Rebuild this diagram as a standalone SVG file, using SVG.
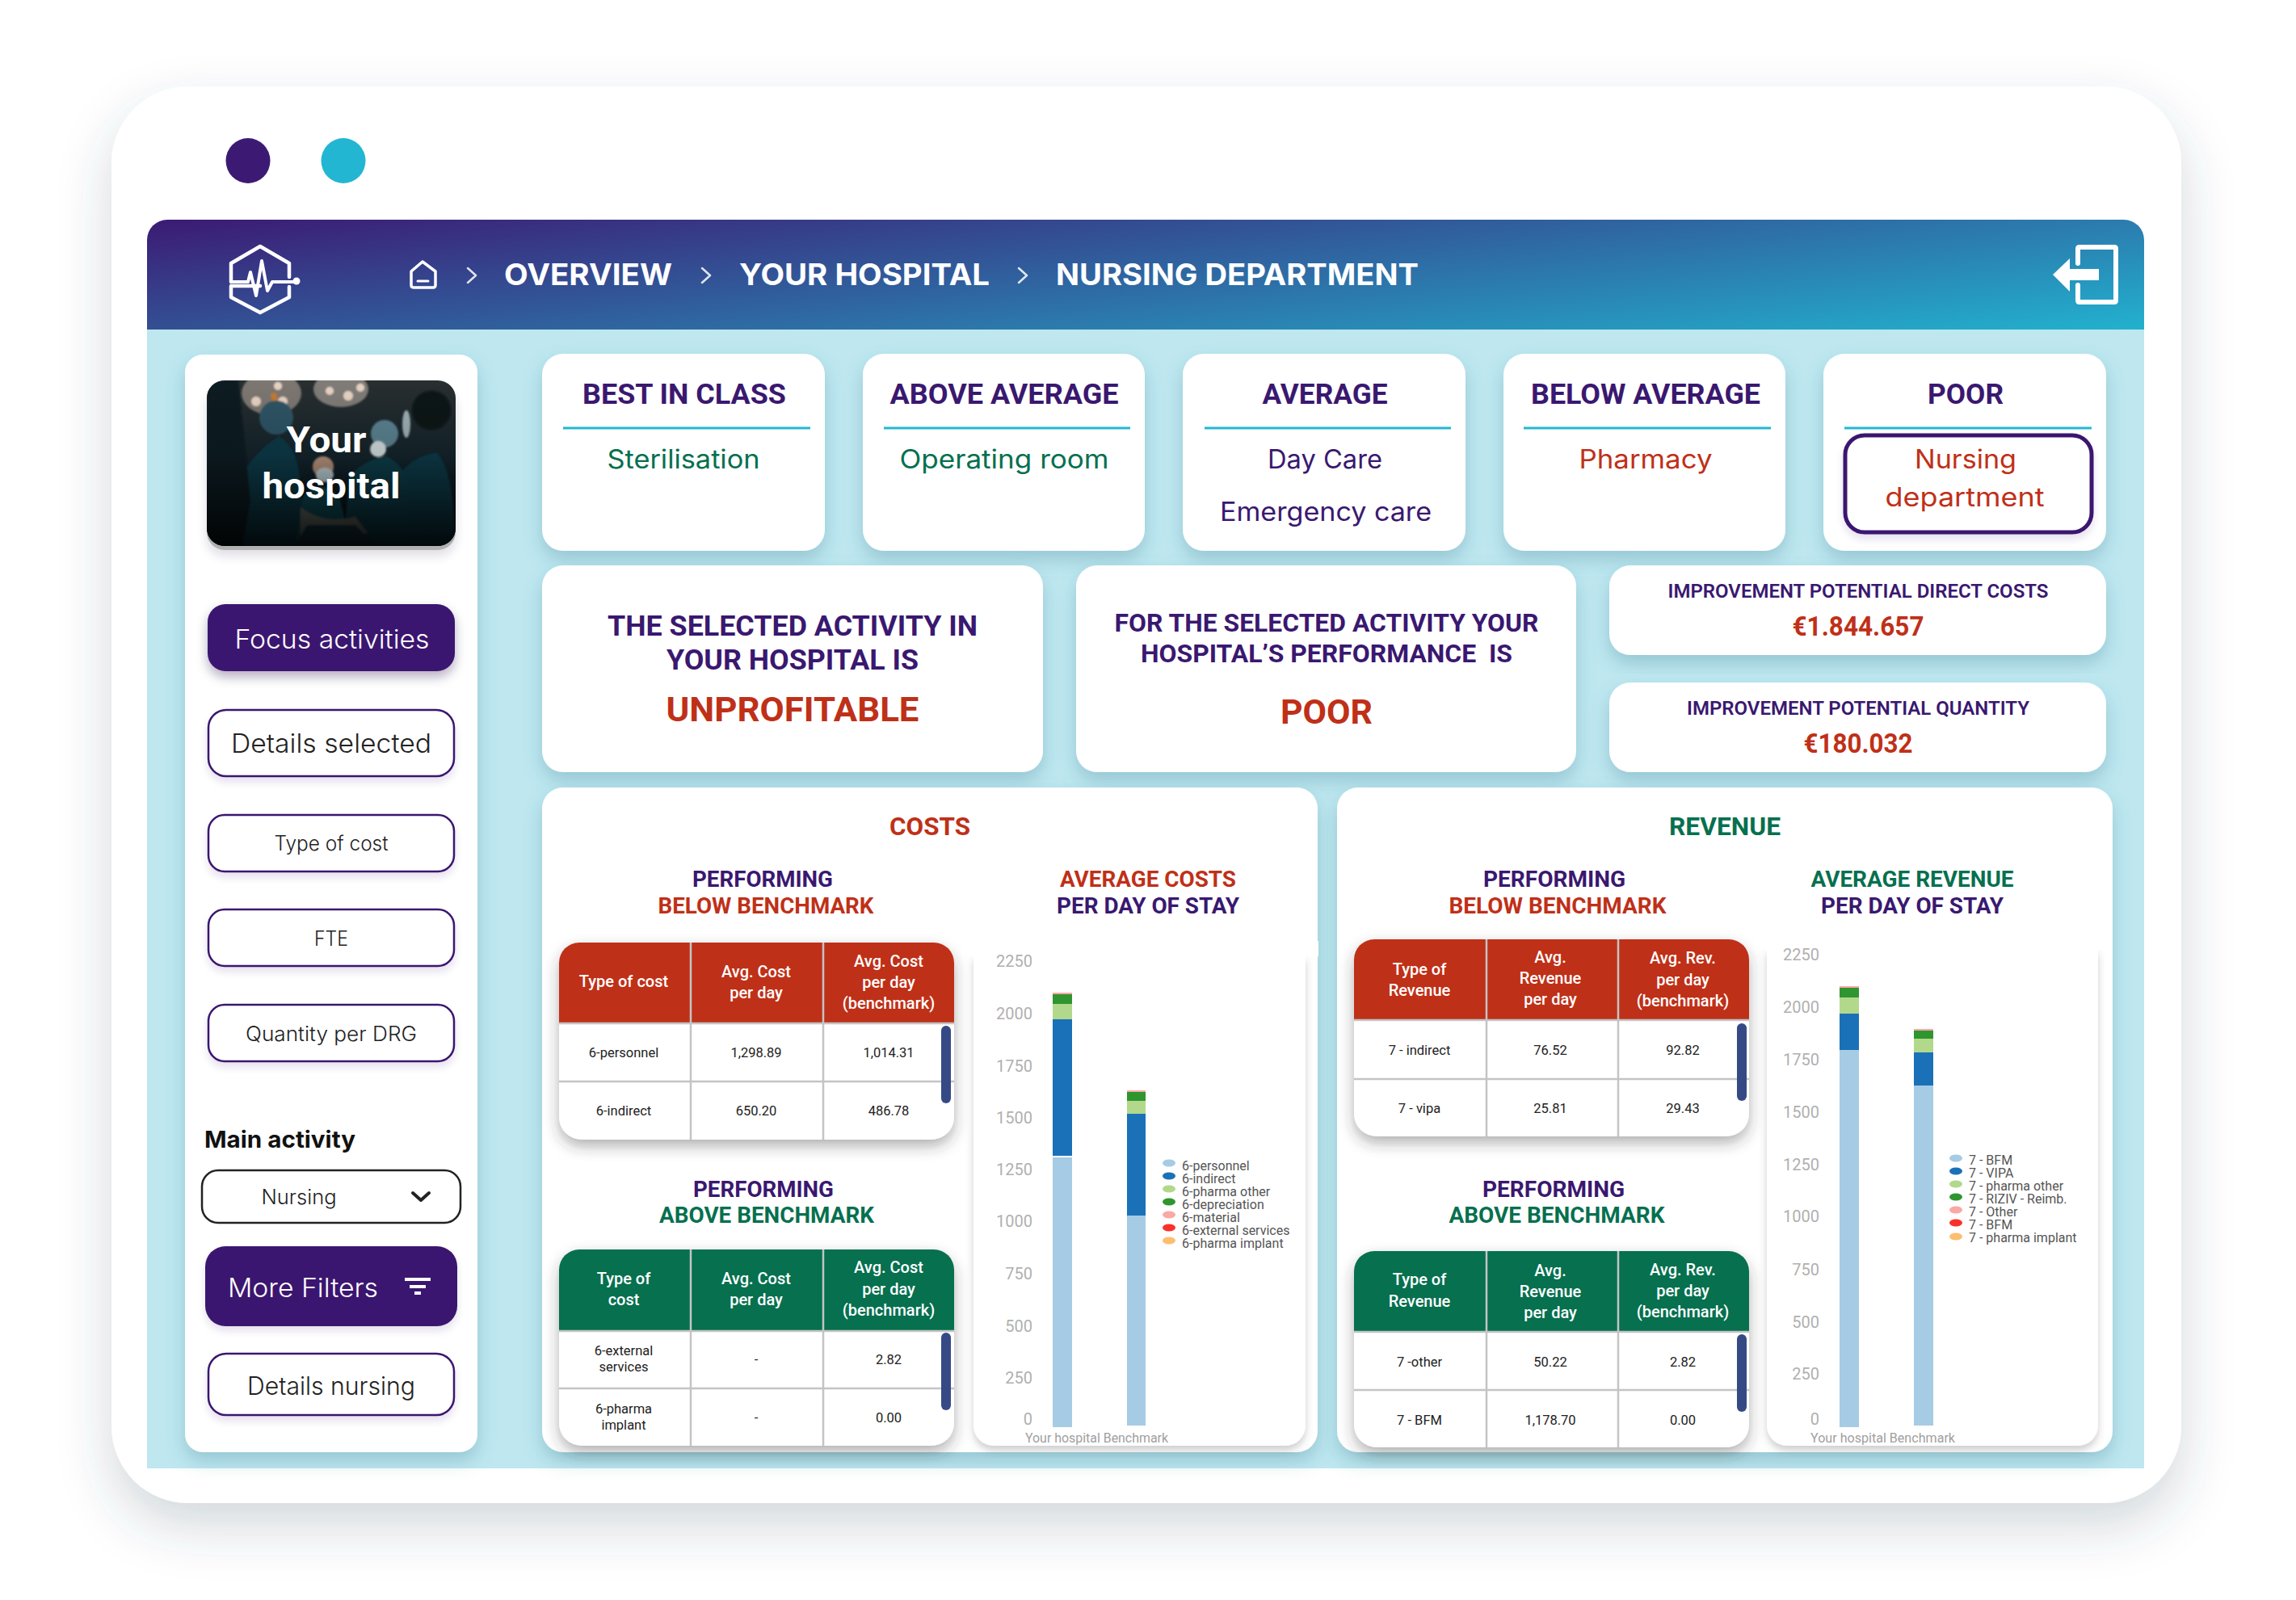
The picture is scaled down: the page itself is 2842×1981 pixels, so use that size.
<svg xmlns="http://www.w3.org/2000/svg" width="2842" height="1981" viewBox="0 0 2842 1981">
<style>
text{font-family:"Roboto","Liberation Sans",sans-serif}
.m{font-family:"Inter","Open Sans",sans-serif}
.c{text-anchor:middle}
.pu{fill:#3a1870}.re{fill:#bf3018}.gr{fill:#06704f}.wh{fill:#fff}
.tt{font-size:35px;font-weight:700}
.st{font-size:32px;font-weight:400}
.h2{font-size:28px;font-weight:700}
.h1{font-size:32px;font-weight:700}
.big{font-size:42px;font-weight:700}
.stm{font-size:31px;font-weight:700}
.stl{font-size:35px;font-weight:700}
.ip{font-size:24px;font-weight:600}
.val{font-size:33px;font-weight:700}
.th{font-size:20px;font-weight:500;fill:#fff}
.td{font-size:16.5px;fill:#222}
.ax{font-size:20px;fill:#b0b0b0;text-anchor:end}
.lg{font-size:16px;fill:#555}
.xl{font-size:17px;fill:#a0a0a0}
.card{fill:#fff;filter:url(#sh)}
.rule{stroke:#22b8d0;stroke-width:3}
.btn{fill:#fff;stroke:#3a1870;stroke-width:2.5;filter:url(#shs)}
.btnf{fill:#3a1870;filter:url(#shb)}
.sep{stroke:#c4c4c4;stroke-width:2.5;fill:none}
.scr{fill:#354a85}
.tb{fill:#fff;filter:url(#sht)}
.chart{fill:#fff;filter:url(#shc)}
.ic{fill:none;stroke:#fff;stroke-linejoin:round;stroke-linecap:round}
.a{fill:#a6cbe5}.b{fill:#1a71b8}.cc{fill:#b2d88c}.d{fill:#2f952f}.e{fill:#f9a9a5}.f{fill:#f8322b}.g{fill:#fdbe6f}
</style>
<defs>
<linearGradient id="hd" gradientUnits="userSpaceOnUse" x1="182" y1="272" x2="221" y2="657">
<stop offset="0" stop-color="#3c1a74"/><stop offset="1" stop-color="#22b2cf"/>
</linearGradient>
<linearGradient id="ph" x1="0" y1="0" x2="0" y2="1">
<stop offset="0" stop-color="#2a2f30"/><stop offset=".5" stop-color="#12242c"/><stop offset="1" stop-color="#02070d"/>
</linearGradient>
<linearGradient id="fade" x1="0" y1="0" x2="0" y2="1">
<stop offset="0" stop-color="#000" stop-opacity="0"/><stop offset=".45" stop-color="#000" stop-opacity=".15"/><stop offset="1" stop-color="#000" stop-opacity=".85"/>
</linearGradient>
<clipPath id="phc"><rect x="256" y="471" width="308" height="205" rx="22"/></clipPath>
<filter id="outer" x="-10%" y="-10%" width="120%" height="125%"><feDropShadow dx="0" dy="28" stdDeviation="32" flood-color="#35505a" flood-opacity=".22"/></filter>
<filter id="sh" x="-10%" y="-10%" width="120%" height="130%"><feDropShadow dx="0" dy="11" stdDeviation="11" flood-color="#3a7f90" flood-opacity=".3"/></filter>
<filter id="shs" x="-10%" y="-20%" width="120%" height="150%"><feDropShadow dx="0" dy="6" stdDeviation="5" flood-color="#3a1870" flood-opacity=".12"/></filter>
<filter id="shb" x="-10%" y="-20%" width="120%" height="160%"><feDropShadow dx="0" dy="7" stdDeviation="7" flood-color="#221040" flood-opacity=".32"/></filter>
<filter id="sht" x="-10%" y="-10%" width="120%" height="130%"><feDropShadow dx="0" dy="8" stdDeviation="9" flood-color="#333" flood-opacity=".38"/></filter>
<filter id="shc" x="-5%" y="-5%" width="110%" height="110%"><feDropShadow dx="0" dy="6" stdDeviation="5" flood-color="#555" flood-opacity=".28"/></filter>
<filter id="bl" x="-10%" y="-10%" width="120%" height="120%"><feGaussianBlur stdDeviation="1.2"/></filter>
</defs>

<g id="window">
<rect x="138" y="107" width="2562" height="1754" rx="95" fill="#fff" filter="url(#outer)"/>
<ellipse cx="307" cy="199" rx="27.5" ry="28" fill="#3c1a74"/>
<ellipse cx="425" cy="199" rx="27.5" ry="28" fill="#22b6d2"/>
</g>

<g id="body"><rect x="182" y="400" width="2472" height="1418" fill="#bee7f0"/></g>

<g id="header">
<path d="M182 408V297a25 25 0 0 1 25-25H2629a25 25 0 0 1 25 25V408Z" fill="url(#hd)"/>
<g id="logo">
<path class="ic" stroke-width="4.5" d="M286 349V326L322 305L358 326V343M358 355V368L322 387L286 368V354H322"/>
<path class="ic" stroke-width="4" d="M286 349H307L310 337L317 366L324 323L331 360L337 349H365"/>
<circle cx="367" cy="348" r="4.5" fill="#fff"/>
</g>
<g id="home"><path class="ic" stroke-width="3.5" d="M509 336L523 324L539 336V353Q539 356 536 356H512Q509 356 509 353Z"/><path class="ic" stroke-width="3" d="M517 348H530"/></g>
<path class="ic" stroke-width="2.5" opacity=".85" d="M579 332L589 341L579 350M869 332L879 341L869 350M1261 332L1271 341L1261 350"/>
<text class="m" x="624" y="353" font-size="37" font-weight="700" fill="#fff" textLength="208" lengthAdjust="spacingAndGlyphs">OVERVIEW</text>
<text class="m" x="915" y="353" font-size="37" font-weight="700" fill="#fff" textLength="310" lengthAdjust="spacingAndGlyphs">YOUR HOSPITAL</text>
<text class="m" x="1307" y="353" font-size="37" font-weight="700" fill="#fff" textLength="449" lengthAdjust="spacingAndGlyphs">NURSING DEPARTMENT</text>
<g id="exit"><path class="ic" stroke-width="6" d="M2572 326V308Q2572 306 2574 306H2617Q2619 306 2619 308V372Q2619 374 2617 374H2574Q2572 374 2572 372V353"/>
<path d="M2541 340L2562 320V333H2598V347H2562V361Z" fill="#fff"/></g>
</g>

<g id="sidebar">
<rect class="card" x="229" y="439" width="362" height="1359" rx="22"/>
<g id="photo">
<rect x="256" y="476" width="308" height="205" rx="22" fill="#555" opacity=".45" filter="url(#shb)"/>
<g clip-path="url(#phc)">
<rect x="256" y="471" width="308" height="205" fill="url(#ph)"/>
<g filter="url(#bl)">
<ellipse cx="336" cy="487" rx="37" ry="27" fill="#7d7772"/>
<ellipse cx="422" cy="482" rx="34" ry="22" fill="#807c78"/>
<circle cx="317" cy="497" r="6" fill="#e8d3c3"/><circle cx="331" cy="508" r="6" fill="#e8d3c3"/><circle cx="350" cy="497" r="6" fill="#e8d3c3"/><circle cx="344" cy="478" r="5" fill="#e8d3c3"/><circle cx="408" cy="484" r="5" fill="#e8d3c3"/><circle cx="431" cy="490" r="6" fill="#e8d3c3"/><circle cx="446" cy="480" r="5" fill="#e8d3c3"/>
<path d="M338 487L343 505" stroke="#c47b2e" stroke-width="7"/>
<path d="M295 676L298 590Q315 560 345 540Q372 555 372 610L385 676Z" fill="#0b3b48"/>
<circle cx="342" cy="517" r="21" fill="#2f5566"/>
<path d="M256 471H295L310 620L300 676H256Z" fill="#0c1a21"/>
<path d="M485 676L492 590Q510 565 540 560Q562 580 564 676Z" fill="#0a3a48"/>
<circle cx="534" cy="508" r="24" fill="#0b1219"/>
<ellipse cx="503" cy="525" rx="5" ry="17" fill="#9fb2b6"/>
<path d="M425 676L432 590Q450 570 478 565Q500 575 505 600L505 676Z" fill="#0b3d49"/>
<circle cx="476" cy="537" r="17" fill="#5b8392"/>
<ellipse cx="468" cy="556" rx="10" ry="10" fill="#d6e0e2"/>
<path d="M365 676L375 615Q395 590 420 615L435 676Z" fill="#0f4b56"/>
<circle cx="400" cy="578" r="13" fill="#b8947d"/>
<ellipse cx="402" cy="588" rx="11" ry="9" fill="#c0d3d7"/>
<path d="M372 628Q400 650 440 640L455 660L372 670Z" fill="#9a7f6e" opacity=".6"/>
<path d="M380 650H440L465 676H365Z" fill="#133642"/>
</g>
<rect x="256" y="471" width="308" height="205" fill="url(#fade)"/>
</g>
<text x="404" y="560" font-size="45" font-weight="700" fill="#fff" text-anchor="middle" textLength="99" lengthAdjust="spacingAndGlyphs">Your</text>
<text x="410" y="617" font-size="45" font-weight="700" fill="#fff" text-anchor="middle" textLength="171" lengthAdjust="spacingAndGlyphs">hospital</text>
</g>
<g id="focus-activities"><rect class="btnf" x="257" y="748" width="306" height="83" rx="22"/><text class="m c wh" x="411" y="803" font-size="33" font-weight="300" textLength="241" lengthAdjust="spacingAndGlyphs">Focus activities</text></g>
<g id="details-selected"><rect class="btn" x="258" y="879" width="304" height="82" rx="22"/><text class="m c" x="410" y="932" font-size="33" fill="#222" font-weight="300" textLength="248" lengthAdjust="spacingAndGlyphs">Details selected</text></g>
<g id="type-of-cost"><rect class="btn" x="258" y="1009" width="304" height="70" rx="20"/><text class="m c" x="410" y="1053" font-size="25" fill="#222" font-weight="300" textLength="141" lengthAdjust="spacingAndGlyphs">Type of cost</text></g>
<g id="fte"><rect class="btn" x="258" y="1126" width="304" height="70" rx="20"/><text class="m c" x="410" y="1171" font-size="25" fill="#222" font-weight="300" textLength="42" lengthAdjust="spacingAndGlyphs">FTE</text></g>
<g id="quantity-drg"><rect class="btn" x="258" y="1244" width="304" height="70" rx="20"/><text class="m c" x="410" y="1289" font-size="25" fill="#222" font-weight="300" textLength="212" lengthAdjust="spacingAndGlyphs">Quantity per DRG</text></g>
<text class="m" x="253" y="1421" font-size="29" font-weight="700" fill="#111" textLength="187" lengthAdjust="spacingAndGlyphs">Main activity</text>
<g id="nursing-select"><rect x="250" y="1449" width="320" height="65" rx="20" fill="#fff" stroke="#222" stroke-width="2.5"/><text class="m c" x="370" y="1491" font-size="25" fill="#222" font-weight="300" textLength="93" lengthAdjust="spacingAndGlyphs">Nursing</text><path d="M511 1477L521 1486L531 1477" fill="none" stroke="#222" stroke-width="4" stroke-linecap="round" stroke-linejoin="round"/></g>
<g id="more-filters"><rect x="254" y="1543" width="312" height="99" rx="25" fill="#3a1870" filter="url(#shs)"/><text class="m wh" x="282" y="1606" font-size="33" font-weight="300" textLength="186" lengthAdjust="spacingAndGlyphs">More Filters</text><path d="M501 1584H533M507 1593H527M513 1601H521" stroke="#fff" stroke-width="4"/></g>
<g id="details-nursing"><rect class="btn" x="258" y="1676" width="304" height="76" rx="22"/><text class="m c" x="410" y="1727" font-size="31" fill="#222" font-weight="300" textLength="208" lengthAdjust="spacingAndGlyphs">Details nursing</text></g>
</g>

<g id="best-in-class"><rect class="card" x="671" y="438" width="350" height="244" rx="26"/><text class="tt c pu" x="847" y="500" textLength="252" lengthAdjust="spacingAndGlyphs">BEST IN CLASS</text><line class="rule" x1="697" x2="1003" y1="530" y2="530"/><text class="m st c gr" x="846" y="580" textLength="189" lengthAdjust="spacingAndGlyphs">Sterilisation</text></g>
<g id="above-average"><rect class="card" x="1068" y="438" width="349" height="244" rx="26"/><text class="tt c pu" x="1243" y="500" textLength="283" lengthAdjust="spacingAndGlyphs">ABOVE AVERAGE</text><line class="rule" x1="1094" x2="1399" y1="530" y2="530"/><text class="m st c gr" x="1243" y="580" textLength="259" lengthAdjust="spacingAndGlyphs">Operating room</text></g>
<g id="average"><rect class="card" x="1464" y="438" width="350" height="244" rx="26"/><text class="tt c pu" x="1640" y="500" textLength="155" lengthAdjust="spacingAndGlyphs">AVERAGE</text><line class="rule" x1="1491" x2="1796" y1="530" y2="530"/><text class="m st c pu" x="1640" y="580" textLength="142" lengthAdjust="spacingAndGlyphs">Day Care</text><text class="m st c pu" x="1641" y="645" textLength="262" lengthAdjust="spacingAndGlyphs">Emergency care</text></g>
<g id="below-average"><rect class="card" x="1861" y="438" width="349" height="244" rx="26"/><text class="tt c pu" x="2037" y="500" textLength="284" lengthAdjust="spacingAndGlyphs">BELOW AVERAGE</text><line class="rule" x1="1886" x2="2192" y1="530" y2="530"/><text class="m st c re" x="2037" y="580" textLength="165" lengthAdjust="spacingAndGlyphs">Pharmacy</text></g>
<g id="poor"><rect class="card" x="2257" y="438" width="350" height="244" rx="26"/><text class="tt c pu" x="2433" y="500" textLength="94" lengthAdjust="spacingAndGlyphs">POOR</text><line class="rule" x1="2283" x2="2589" y1="530" y2="530"/><rect x="2284" y="539" width="305" height="120" rx="24" fill="#fff" stroke="#3a1870" stroke-width="5" filter="url(#shs)"/><text class="m st c re" x="2433" y="580" textLength="126" lengthAdjust="spacingAndGlyphs">Nursing</text><text class="m st c re" x="2432" y="627" textLength="197" lengthAdjust="spacingAndGlyphs">department</text></g>

<g id="selected-activity"><rect class="card" x="671" y="700" width="620" height="256" rx="26"/><text class="stl c pu" x="981" y="787" textLength="458" lengthAdjust="spacingAndGlyphs">THE SELECTED ACTIVITY IN</text><text class="stl c pu" x="981" y="829" textLength="312" lengthAdjust="spacingAndGlyphs">YOUR HOSPITAL IS</text><text class="big c re" x="981" y="893" textLength="313" lengthAdjust="spacingAndGlyphs">UNPROFITABLE</text></g>
<g id="performance"><rect class="card" x="1332" y="700" width="619" height="256" rx="26"/><text class="stm c pu" x="1642" y="782" textLength="525" lengthAdjust="spacingAndGlyphs">FOR THE SELECTED ACTIVITY YOUR</text><text class="stm c pu" x="1642" y="820" xml:space="preserve" textLength="460" lengthAdjust="spacingAndGlyphs">HOSPITAL’S PERFORMANCE  IS</text><text class="big c re" x="1642" y="896" textLength="114" lengthAdjust="spacingAndGlyphs">POOR</text></g>
<g id="potential-direct"><rect class="card" x="1992" y="700" width="615" height="111" rx="26"/><text class="ip c pu" x="2300" y="740" textLength="471" lengthAdjust="spacingAndGlyphs">IMPROVEMENT POTENTIAL DIRECT COSTS</text><text class="val c re" x="2300" y="787" textLength="163" lengthAdjust="spacingAndGlyphs">€1.844.657</text></g>
<g id="potential-quantity"><rect class="card" x="1992" y="845" width="615" height="111" rx="26"/><text class="ip c pu" x="2300" y="885" textLength="424" lengthAdjust="spacingAndGlyphs">IMPROVEMENT POTENTIAL QUANTITY</text><text class="val c re" x="2300" y="932" textLength="135" lengthAdjust="spacingAndGlyphs">€180.032</text></g>

<g id="costs">
<rect class="card" x="671" y="975" width="960" height="823" rx="26"/>
<text class="h1 c re" x="1151" y="1034" textLength="100" lengthAdjust="spacingAndGlyphs">COSTS</text>
<text class="h2 c pu" x="944" y="1098" textLength="174" lengthAdjust="spacingAndGlyphs">PERFORMING</text>
<text class="h2 c re" x="948" y="1131" textLength="267" lengthAdjust="spacingAndGlyphs">BELOW BENCHMARK</text>
<text class="h2 c re" x="1421" y="1098" textLength="218" lengthAdjust="spacingAndGlyphs">AVERAGE COSTS</text>
<text class="h2 c pu" x="1421" y="1131" textLength="226" lengthAdjust="spacingAndGlyphs">PER DAY OF STAY</text>
<g id="costs-below-table">
<rect class="tb" x="692" y="1167" width="489" height="244" rx="28"/>
<path class="re" d="M692 1266V1192a25 25 0 0 1 25-25H1156a25 25 0 0 1 25 25V1266Z"/>
<path class="sep" d="M692 1267H1181M692 1339H1181M855 1167V1411M1019 1167V1411"/>
<text class="th c" x="772" y="1222">Type of cost</text>
<text class="th c" x="936" y="1210">Avg. Cost</text><text class="th c" x="936" y="1236">per day</text>
<text class="th c" x="1100" y="1197">Avg. Cost</text><text class="th c" x="1100" y="1223">per day</text><text class="th c" x="1100" y="1249">(benchmark)</text>
<text class="td c" x="772" y="1309">6-personnel</text><text class="td c" x="936" y="1309">1,298.89</text><text class="td c" x="1100" y="1309">1,014.31</text>
<text class="td c" x="772" y="1381">6-indirect</text><text class="td c" x="936" y="1381">650.20</text><text class="td c" x="1100" y="1381">486.78</text>
<rect class="scr" x="1165" y="1270" width="12" height="96" rx="6"/>
</g>
<text class="h2 c pu" x="945" y="1482" textLength="174" lengthAdjust="spacingAndGlyphs">PERFORMING</text>
<text class="h2 c gr" x="949" y="1514" textLength="266" lengthAdjust="spacingAndGlyphs">ABOVE BENCHMARK</text>
<g id="costs-above-table">
<rect class="tb" x="692" y="1547" width="489" height="243" rx="28"/>
<path class="gr" d="M692 1647V1572a25 25 0 0 1 25-25H1156a25 25 0 0 1 25 25V1647Z"/>
<path class="sep" d="M692 1648H1181M692 1719H1181M855 1547V1790M1019 1547V1790"/>
<text class="th c" x="772" y="1590">Type of</text><text class="th c" x="772" y="1616">cost</text>
<text class="th c" x="936" y="1590">Avg. Cost</text><text class="th c" x="936" y="1616">per day</text>
<text class="th c" x="1100" y="1576">Avg. Cost</text><text class="th c" x="1100" y="1603">per day</text><text class="th c" x="1100" y="1629">(benchmark)</text>
<text class="td c" x="772" y="1678">6-external</text><text class="td c" x="772" y="1698">services</text><text class="td c" x="936" y="1689">-</text><text class="td c" x="1100" y="1689">2.82</text>
<text class="td c" x="772" y="1750">6-pharma</text><text class="td c" x="772" y="1770">implant</text><text class="td c" x="936" y="1761">-</text><text class="td c" x="1100" y="1761">0.00</text>
<rect class="scr" x="1165" y="1650" width="12" height="96" rx="6"/>
</g>
<g id="costs-chart">
<path class="chart" d="M1205 1183H1616V1765a25 25 0 0 1-25 25H1230a25 25 0 0 1-25-25Z"/>
<rect x="1190" y="1165" width="442" height="19" fill="#fff"/>
<text class="ax" x="1278" y="1197">2250</text><text class="ax" x="1278" y="1262">2000</text><text class="ax" x="1278" y="1327">1750</text><text class="ax" x="1278" y="1391">1500</text><text class="ax" x="1278" y="1455">1250</text><text class="ax" x="1278" y="1519">1000</text><text class="ax" x="1278" y="1584">750</text><text class="ax" x="1278" y="1649">500</text><text class="ax" x="1278" y="1713">250</text><text class="ax" x="1278" y="1764">0</text>
<rect class="a" x="1303" y="1433" width="24" height="334"/><rect class="b" x="1303" y="1262" width="24" height="169"/><rect class="cc" x="1303" y="1243" width="24" height="19"/><rect class="d" x="1303" y="1231" width="24" height="12"/><rect class="e" x="1303" y="1229" width="24" height="2"/>
<rect class="a" x="1395" y="1505" width="23" height="260"/><rect class="b" x="1395" y="1379" width="23" height="126"/><rect class="cc" x="1395" y="1363" width="23" height="16"/><rect class="d" x="1395" y="1352" width="23" height="11"/><rect class="e" x="1395" y="1350" width="23" height="2"/>
<ellipse class="a" cx="1447" cy="1440" rx="8" ry="4.5"/><ellipse class="b" cx="1447" cy="1456" rx="8" ry="4.5"/><ellipse class="cc" cx="1447" cy="1472" rx="8" ry="4.5"/><ellipse class="d" cx="1447" cy="1488" rx="8" ry="4.5"/><ellipse class="e" cx="1447" cy="1504" rx="8" ry="4.5"/><ellipse class="f" cx="1447" cy="1520" rx="8" ry="4.5"/><ellipse class="g" cx="1447" cy="1536" rx="8" ry="4.5"/>
<text class="lg" x="1463" y="1449">6-personnel</text><text class="lg" x="1463" y="1465">6-indirect</text><text class="lg" x="1463" y="1481">6-pharma other</text><text class="lg" x="1463" y="1497">6-depreciation</text><text class="lg" x="1463" y="1513">6-material</text><text class="lg" x="1463" y="1529">6-external services</text><text class="lg" x="1463" y="1545">6-pharma implant</text>
<text class="xl" x="1269" y="1786" textLength="177" lengthAdjust="spacingAndGlyphs">Your hospital Benchmark</text>
</g>
</g>

<g id="revenue">
<rect class="card" x="1655" y="975" width="960" height="823" rx="26"/>
<text class="h1 c gr" x="2135" y="1034" textLength="138" lengthAdjust="spacingAndGlyphs">REVENUE</text>
<text class="h2 c pu" x="1924" y="1098" textLength="176" lengthAdjust="spacingAndGlyphs">PERFORMING</text>
<text class="h2 c re" x="1928" y="1131" textLength="269" lengthAdjust="spacingAndGlyphs">BELOW BENCHMARK</text>
<text class="h2 c gr" x="2367" y="1098" textLength="251" lengthAdjust="spacingAndGlyphs">AVERAGE REVENUE</text>
<text class="h2 c pu" x="2367" y="1131" textLength="226" lengthAdjust="spacingAndGlyphs">PER DAY OF STAY</text>
<g id="revenue-below-table">
<rect class="tb" x="1676" y="1163" width="489" height="244" rx="28"/>
<path class="re" d="M1676 1262V1188a25 25 0 0 1 25-25H2140a25 25 0 0 1 25 25V1262Z"/>
<path class="sep" d="M1676 1263H2165M1676 1336H2165M1840 1163V1407M2003 1163V1407"/>
<text class="th c" x="1757" y="1207">Type of</text><text class="th c" x="1757" y="1233">Revenue</text>
<text class="th c" x="1919" y="1192">Avg.</text><text class="th c" x="1919" y="1218">Revenue</text><text class="th c" x="1919" y="1244">per day</text>
<text class="th c" x="2083" y="1193">Avg. Rev.</text><text class="th c" x="2083" y="1220">per day</text><text class="th c" x="2083" y="1246">(benchmark)</text>
<text class="td c" x="1757" y="1306">7 - indirect</text><text class="td c" x="1919" y="1306">76.52</text><text class="td c" x="2083" y="1306">92.82</text>
<text class="td c" x="1757" y="1378">7 - vipa</text><text class="td c" x="1919" y="1378">25.81</text><text class="td c" x="2083" y="1378">29.43</text>
<rect class="scr" x="2150" y="1267" width="12" height="96" rx="6"/>
</g>
<text class="h2 c pu" x="1923" y="1482" textLength="176" lengthAdjust="spacingAndGlyphs">PERFORMING</text>
<text class="h2 c gr" x="1927" y="1514" textLength="267" lengthAdjust="spacingAndGlyphs">ABOVE BENCHMARK</text>
<g id="revenue-above-table">
<rect class="tb" x="1676" y="1549" width="489" height="243" rx="28"/>
<path class="gr" d="M1676 1648V1574a25 25 0 0 1 25-25H2140a25 25 0 0 1 25 25V1648Z"/>
<path class="sep" d="M1676 1649H2165M1676 1721H2165M1840 1549V1792M2003 1549V1792"/>
<text class="th c" x="1757" y="1591">Type of</text><text class="th c" x="1757" y="1618">Revenue</text>
<text class="th c" x="1919" y="1580">Avg.</text><text class="th c" x="1919" y="1606">Revenue</text><text class="th c" x="1919" y="1632">per day</text>
<text class="th c" x="2083" y="1579">Avg. Rev.</text><text class="th c" x="2083" y="1605">per day</text><text class="th c" x="2083" y="1631">(benchmark)</text>
<text class="td c" x="1757" y="1692">7 -other</text><text class="td c" x="1919" y="1692">50.22</text><text class="td c" x="2083" y="1692">2.82</text>
<text class="td c" x="1757" y="1764">7 - BFM</text><text class="td c" x="1919" y="1764">1,178.70</text><text class="td c" x="2083" y="1764">0.00</text>
<rect class="scr" x="2150" y="1652" width="12" height="96" rx="6"/>
</g>
<g id="revenue-chart">
<path class="chart" d="M2187 1175H2597V1765a25 25 0 0 1-25 25H2212a25 25 0 0 1-25-25Z"/>
<rect x="2172" y="1157" width="440" height="19" fill="#fff"/>
<text class="ax" x="2252" y="1189">2250</text><text class="ax" x="2252" y="1254">2000</text><text class="ax" x="2252" y="1319">1750</text><text class="ax" x="2252" y="1384">1500</text><text class="ax" x="2252" y="1449">1250</text><text class="ax" x="2252" y="1513">1000</text><text class="ax" x="2252" y="1579">750</text><text class="ax" x="2252" y="1644">500</text><text class="ax" x="2252" y="1708">250</text><text class="ax" x="2252" y="1764">0</text>
<rect class="a" x="2277" y="1300" width="24" height="467"/><rect class="b" x="2277" y="1255" width="24" height="45"/><rect class="cc" x="2277" y="1235" width="24" height="20"/><rect class="d" x="2277" y="1223" width="24" height="12"/><rect class="e" x="2277" y="1221" width="24" height="2"/>
<rect class="a" x="2369" y="1344" width="24" height="421"/><rect class="b" x="2369" y="1303" width="24" height="41"/><rect class="cc" x="2369" y="1286" width="24" height="17"/><rect class="d" x="2369" y="1276" width="24" height="10"/><rect class="e" x="2369" y="1274" width="24" height="2"/>
<ellipse class="a" cx="2421" cy="1434" rx="8" ry="4.5"/><ellipse class="b" cx="2421" cy="1450" rx="8" ry="4.5"/><ellipse class="cc" cx="2421" cy="1466" rx="8" ry="4.5"/><ellipse class="d" cx="2421" cy="1482" rx="8" ry="4.5"/><ellipse class="e" cx="2421" cy="1498" rx="8" ry="4.5"/><ellipse class="f" cx="2421" cy="1514" rx="8" ry="4.5"/><ellipse class="g" cx="2421" cy="1531" rx="8" ry="4.5"/>
<text class="lg" x="2437" y="1442">7 - BFM</text><text class="lg" x="2437" y="1458">7 - VIPA</text><text class="lg" x="2437" y="1474">7 - pharma other</text><text class="lg" x="2437" y="1490">7 - RIZIV - Reimb.</text><text class="lg" x="2437" y="1506">7 - Other</text><text class="lg" x="2437" y="1522">7 - BFM</text><text class="lg" x="2437" y="1538">7 - pharma implant</text>
<text class="xl" x="2241" y="1786" textLength="179" lengthAdjust="spacingAndGlyphs">Your hospital Benchmark</text>
</g>
</g>
</svg>
